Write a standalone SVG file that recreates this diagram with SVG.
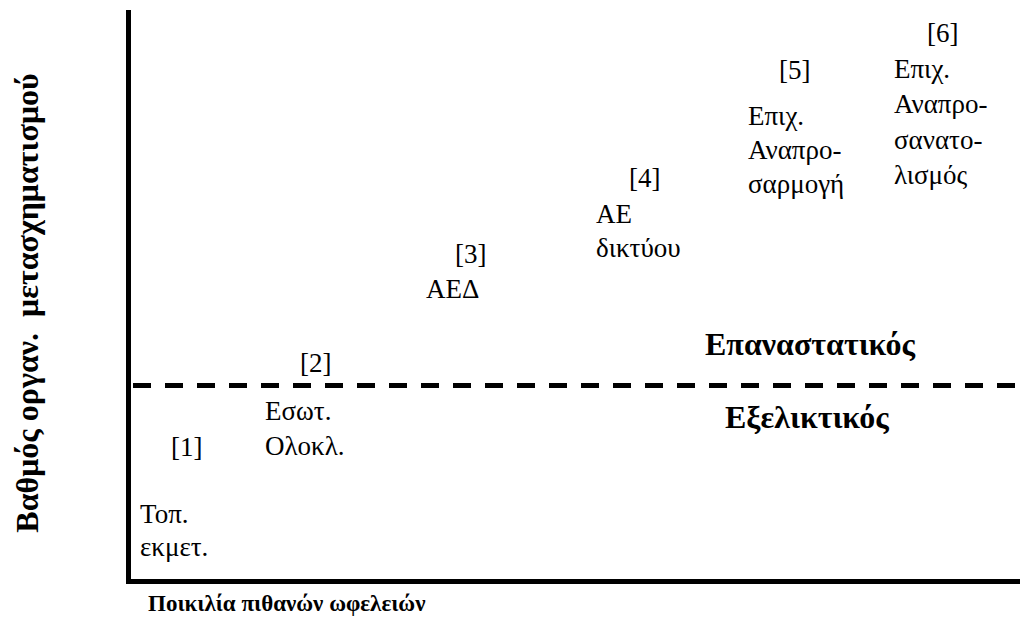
<svg xmlns="http://www.w3.org/2000/svg" width="1027" height="625" viewBox="0 0 1027 625">
<style>
.t{font-family:"Liberation Serif","Liberation Sans",sans-serif;font-size:27px;fill:#000}
.b{font-family:"Liberation Serif",serif;font-size:32px;font-weight:bold;fill:#000}
.ax{stroke:#000;stroke-width:5;fill:none}
.dash{stroke:#000;stroke-width:5;stroke-dasharray:18 14;fill:none}
</style>
<rect width="1027" height="625" fill="#fff"/>
<g id="axes">
<path class="ax" d="M128.5 10 V581.5 H1020"/>
<path class="dash" d="M133 385.5 H1020"/>
</g>
<g id="n1"><text class="t" x="171" y="456">[1]</text><text class="t" x="140" y="523">Τοπ.</text><text class="t" x="140" y="556">εκμετ.</text></g>
<g id="n2"><text class="t" x="300" y="372">[2]</text><text class="t" x="265" y="420">Εσωτ.</text><text class="t" x="265" y="455">Ολοκλ.</text></g>
<g id="n3"><text class="t" x="455" y="263">[3]</text><text class="t" x="426" y="298">ΑΕΔ</text></g>
<g id="n4"><text class="t" x="629" y="187">[4]</text><text class="t" x="596" y="223">ΑΕ</text><text class="t" x="596" y="257">δικτύου</text></g>
<g id="n5"><text class="t" x="779" y="79">[5]</text><text class="t" x="748" y="125">Επιχ.</text><text class="t" x="748" y="159">Αναπρο-</text><text class="t" x="748" y="193">σαρμογή</text></g>
<g id="n6"><text class="t" x="927" y="42">[6]</text><text class="t" x="894" y="78">Επιχ.</text><text class="t" x="894" y="113">Αναπρο-</text><text class="t" x="894" y="149">σανατο-</text><text class="t" x="894" y="184">λισμός</text></g>
<g id="labels">
<text class="b" x="705" y="355">Επαναστατικός</text>
<text class="b" x="725" y="428">Εξελικτικός</text>
<text class="b" style="font-size:23px" x="148" y="611">Ποικιλία πιθανών ωφελειών</text>
<text class="b" transform="translate(38,303) rotate(-90)" text-anchor="middle" xml:space="preserve">Βαθμός οργαν.  μετασχηματισμού</text>
</g>
</svg>
